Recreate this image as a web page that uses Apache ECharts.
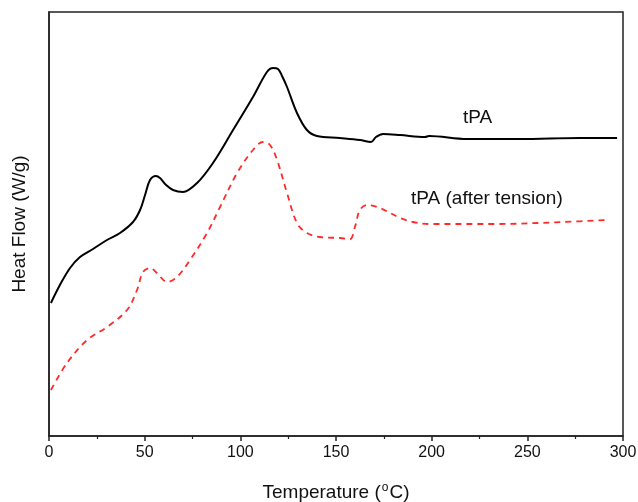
<!DOCTYPE html>
<html><head><meta charset="utf-8">
<script src="https://cdn.jsdelivr.net/npm/echarts@6/dist/echarts.min.js"></script>
<style>html,body{margin:0;padding:0;background:#fff}#c{width:638px;height:502px}</style>
</head><body><div id="c"></div>
<script>
// Temperature (°C) and heat flow (arbitrary units)
const tpaT = [1,5.7,11,16.2,23,30.3,37.1,43.9,47.6,50.2,52.8,55.9,58,61.2,64.8,70,77.4,85.7,96.2,106.6,113.9,117.1,119.7,121.8,124.4,129.6,134.8,140,152,162.5,168.3,170.9,174.6,183.5,196.5,198.6,218.5,246,277.5,296.9];
const tpaV = [133,151,168,179,187,196,203,214,226,241,256,260,258,251,246,244,253,273,306,339,364,368,367,360,349,323,306,300,298,296,294,299,302,301,299,300,297,297,298,298];
const tensT = [1,9.4,19.9,30.3,40.8,46,49.1,52.8,56.4,61.7,66.9,73.7,82.6,89.4,98.3,106.6,111.8,115.5,119.2,124.4,129.6,134.8,141.6,152.1,157.3,159.9,162.5,166.2,173,183.5,190.2,199.1,234.1,268.6,291.6];
const tensV = [46,73,96,109,126,146,164,168,163,154,159,176,203,229,263,286,294,291,276,243,213,203,199,198,197,209,226,231,228,218,214,212,212,214,216];
const xTicks = [0,50,100,150,200,250,300];
const seriesNames = ['tPA','tPA (after tension)'];

const chart = echarts.init(document.getElementById('c'));
const zip = (a,b)=>a.map((v,i)=>[v,b[i]]);
const FF = '"Liberation Sans", Arial, sans-serif';
chart.setOption({
  animation:false,
  backgroundColor:'#fff',
  grid:{left:49,top:12,right:15,bottom:66,show:true,borderColor:'#222',borderWidth:1.5,
    containLabel:false,outerBoundsMode:'none'},
  xAxis:{type:'value',min:xTicks[0],max:xTicks[xTicks.length-1],interval:50,
    name:'{a|Temperature (}{s|o}{a|C)}', nameLocation:'middle', nameGap:46,
    nameTextStyle:{rich:{a:{fontFamily:FF,fontSize:19,color:'#111'},
      s:{fontFamily:FF,fontSize:12,color:'#111',verticalAlign:'top',padding:[0,1,9,1]}}},
    axisLine:{lineStyle:{color:'#222',width:1.5}},
    axisTick:{show:true,length:5,inside:false,lineStyle:{color:'#222',width:1.5}},
    minorTick:{show:true,splitNumber:2,length:3,lineStyle:{color:'#222',width:1.2}},
    splitLine:{show:false},
    axisLabel:{fontFamily:FF,fontSize:16,color:'#111',margin:9}
  },
  yAxis:{type:'value',min:0,max:424,
    name:'Heat Flow (W/g)',nameLocation:'middle',nameGap:20,
    nameTextStyle:{fontFamily:FF,fontSize:19,color:'#111'},
    axisLine:{show:true,lineStyle:{color:'#222',width:1.5}},
    axisTick:{show:false},axisLabel:{show:false},splitLine:{show:false}
  },
  series:[
    {name:seriesNames[0],type:'line',data:zip(tpaT,tpaV),smooth:0.35,showSymbol:false,
      lineStyle:{color:'#000',width:2}},
    {name:seriesNames[1],type:'line',data:zip(tensT,tensV),smooth:0.35,showSymbol:false,
      lineStyle:{color:'#ff2a2a',width:1.8,type:[6,5]}}
  ],
  graphic:[
    {type:'text',left:463,top:108,style:{text:seriesNames[0],font:'19px "Liberation Sans"',fill:'#111'}},
    {type:'text',left:411,top:189,style:{text:seriesNames[1],font:'19px "Liberation Sans"',fill:'#111'}}
  ]
});
</script></body></html>
